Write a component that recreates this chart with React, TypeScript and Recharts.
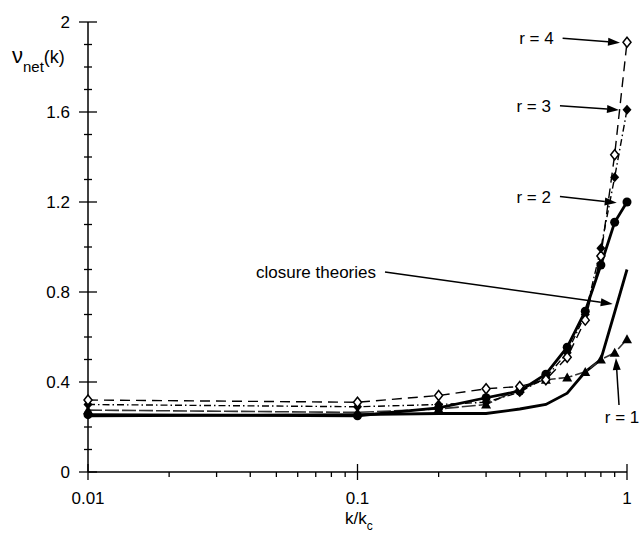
import React from 'react'
import { LineChart, Line, XAxis, YAxis, ReferenceLine } from 'recharts'

// k / k_c sample positions
const kValues = [0.01, 0.1, 0.2, 0.3, 0.4, 0.5, 0.6, 0.7, 0.8, 0.9, 1]

const r4Values = [0.32, 0.31, 0.34, 0.37, 0.38, 0.41, 0.51, 0.675, 0.96, 1.41, 1.91]
const r3Values = [0.3, 0.29, 0.3, 0.31, 0.355, 0.42, 0.53, 0.7, 0.995, 1.31, 1.61]
const r2Values = [0.255, 0.25, 0.285, 0.33, 0.36, 0.435, 0.555, 0.715, 0.92, 1.11, 1.2]
const r1Values = [0.275, 0.265, 0.28, 0.3, 0.37, 0.41, 0.42, 0.445, 0.5, 0.53, 0.59]
const closureValues = [0.25, 0.255, 0.26, 0.26, 0.28, 0.3, 0.35, 0.445, 0.5, 0.71, 0.9]

const xTicks = [0.01, 0.02, 0.03, 0.04, 0.05, 0.06, 0.07, 0.08, 0.09, 0.1, 0.2, 0.3, 0.4, 0.5, 0.6, 0.7, 0.8, 0.9, 1]
const xMajor = [0.01, 0.1, 1]
const yTicks = [0, 0.1, 0.2, 0.3, 0.4, 0.5, 0.6, 0.7, 0.8, 0.9, 1, 1.1, 1.2, 1.3, 1.4, 1.5, 1.6, 1.7, 1.8, 1.9, 2]
const yMajor = [0, 0.4, 0.8, 1.2, 1.6, 2]

// arrow annotations: label, tail point, head point (data coords)
const noteLabels = ['r = 4', 'r = 3', 'r = 2', 'closure theories', 'r = 1']
const noteFrom = [[0.577, 1.928], [0.564, 1.628], [0.564, 1.224], [0.1265, 0.889], [0.934, 0.298]]
const noteTo = [[0.942, 1.908], [0.934, 1.609], [0.916, 1.197], [0.885, 0.747], [0.91, 0.507]]
const noteTextBelow = [false, false, false, false, true]

const FONT = '"Liberation Sans", Arial, Helvetica, sans-serif'

const data = kValues.map((k, i) => ({
  k,
  r1: r1Values[i],
  r2: r2Values[i],
  r3: r3Values[i],
  r4: r4Values[i],
  closure: closureValues[i],
}))

const openDiamond = (props: any) => {
  const { cx, cy, index } = props
  return (
    <polygon
      key={`od-${index}`}
      points={`${cx},${cy - 5} ${cx + 4},${cy} ${cx},${cy + 5} ${cx - 4},${cy}`}
      fill="#fff"
      stroke="#000"
      strokeWidth={1.5}
    />
  )
}

const filledDiamond = (props: any) => {
  const { cx, cy, index } = props
  return (
    <polygon
      key={`fd-${index}`}
      points={`${cx},${cy - 5} ${cx + 4.5},${cy} ${cx},${cy + 5} ${cx - 4.5},${cy}`}
      fill="#000"
    />
  )
}

const filledCircle = (props: any) => {
  const { cx, cy, index } = props
  return <circle key={`fc-${index}`} cx={cx} cy={cy} r={4.5} fill="#000" />
}

const filledTriangle = (props: any) => {
  const { cx, cy, index } = props
  return (
    <polygon
      key={`ft-${index}`}
      points={`${cx},${cy - 5} ${cx + 5},${cy + 4} ${cx - 5},${cy + 4}`}
      fill="#000"
    />
  )
}

const YTick = (props: any) => {
  const { x, y, payload } = props
  const major = yMajor.includes(payload.value)
  return (
    <g>
      <line x1={x - (major ? 9 : 4)} x2={x + (major ? 9 : 4)} y1={y} y2={y} stroke="#000" strokeWidth={1.3} />
      {major && (
        <text x={x - 18} y={y} dy={6} textAnchor="end" fontSize={17} fontFamily={FONT} fill="#000">
          {String(payload.value)}
        </text>
      )}
    </g>
  )
}

const XTick = (props: any) => {
  const { x, y, payload } = props
  const major = xMajor.includes(payload.value)
  return (
    <g>
      <line x1={x} x2={x} y1={major ? y - 8 : y} y2={y + (major ? 8 : 5)} stroke="#000" strokeWidth={1.3} />
      {major && (
        <text x={x} y={y + 32} textAnchor="middle" fontSize={17} fontFamily={FONT} fill="#000">
          {String(payload.value)}
        </text>
      )}
    </g>
  )
}

const arrowShape = (label: string, below: boolean) => (props: any) => {
  const { x1, y1, x2, y2 } = props
  const ang = Math.atan2(y2 - y1, x2 - x1)
  const len = 12
  const half = 4
  const bx = x2 - len * Math.cos(ang)
  const by = y2 - len * Math.sin(ang)
  const px = -Math.sin(ang) * half
  const py = Math.cos(ang) * half
  return (
    <g>
      <line x1={x1} y1={y1} x2={bx} y2={by} stroke="#000" strokeWidth={1.5} />
      <polygon points={`${x2},${y2} ${bx + px},${by + py} ${bx - px},${by - py}`} fill="#000" />
      <text
        x={below ? x1 + 3 : x1 - 9}
        y={below ? y1 + 18 : y1 + 6}
        textAnchor={below ? 'middle' : 'end'}
        fontSize={17}
        fontFamily={FONT}
        fill="#000"
      >
        {label}
      </text>
    </g>
  )
}

export default function App() {
  return (
    <div style={{ position: 'absolute', left: 0, top: 0, width: 644, height: 536, background: '#fff' }}>
      <LineChart width={644} height={536} data={data} margin={{ top: 22, right: 17, left: 28, bottom: 24 }}>
        <XAxis
          dataKey="k"
          type="number"
          scale="log"
          domain={[0.01, 1]}
          ticks={xTicks}
          interval={0}
          height={40}
          tickSize={0}
          tickMargin={0}
          tickLine={false}
          tick={<XTick />}
          axisLine={{ stroke: '#000', strokeWidth: 1.5 }}
        />
        <YAxis
          type="number"
          domain={[0, 2]}
          ticks={yTicks}
          interval={0}
          width={60}
          tickSize={0}
          tickMargin={0}
          tickLine={false}
          tick={<YTick />}
          axisLine={{ stroke: '#000', strokeWidth: 1.5 }}
        />
        <Line
          dataKey="closure"
          type="linear"
          stroke="#000"
          strokeWidth={2.8}
          dot={false}
          isAnimationActive={false}
        />
        <Line
          dataKey="r1"
          type="linear"
          stroke="#333"
          strokeWidth={1.6}
          strokeDasharray="14 3"
          dot={filledTriangle}
          isAnimationActive={false}
        />
        <Line
          dataKey="r2"
          type="linear"
          stroke="#000"
          strokeWidth={2.8}
          dot={filledCircle}
          isAnimationActive={false}
        />
        <Line
          dataKey="r3"
          type="linear"
          stroke="#000"
          strokeWidth={1.4}
          strokeDasharray="7 3 1.5 3"
          dot={filledDiamond}
          isAnimationActive={false}
        />
        <Line
          dataKey="r4"
          type="linear"
          stroke="#000"
          strokeWidth={1.4}
          strokeDasharray="10 6"
          dot={openDiamond}
          isAnimationActive={false}
        />
        {noteLabels.map((label, i) => (
          <ReferenceLine
            key={label}
            segment={[
              { x: noteFrom[i][0], y: noteFrom[i][1] },
              { x: noteTo[i][0], y: noteTo[i][1] },
            ]}
            ifOverflow="visible"
            shape={arrowShape(label, noteTextBelow[i])}
          />
        ))}
      </LineChart>
      <svg
        width={644}
        height={536}
        style={{ position: 'absolute', left: 0, top: 0, pointerEvents: 'none' }}
      >
        <text x={12} y={63} fontFamily={FONT} fill="#000">
          <tspan fontSize={22}>ν</tspan>
          <tspan fontSize={15} dy={9}>net</tspan>
          <tspan fontSize={18} dy={-9}>(k)</tspan>
        </text>
        <text x={345} y={524} fontFamily={FONT} fill="#000">
          <tspan fontSize={17}>k/k</tspan>
          <tspan fontSize={12} dy={6}>c</tspan>
        </text>
      </svg>
    </div>
  )
}
